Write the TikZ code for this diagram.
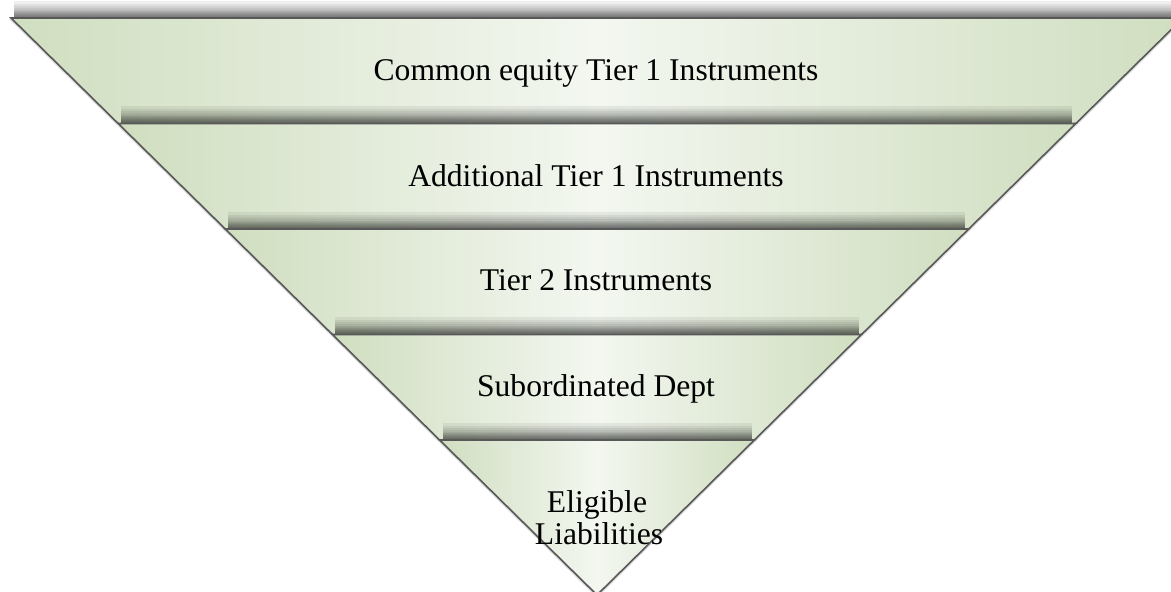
\documentclass[tikz,border=0pt]{standalone}
\usepackage{fontspec}
\setmainfont{Liberation Serif}
\usetikzlibrary{calc,fadings}
\definecolor{bandedge}{RGB}{208,222,192}
\definecolor{bandmid}{RGB}{243,247,240}
\definecolor{bandrule}{RGB}{88,88,88}

% horizontal fading (100bp square, as fit fading expects) that softens
% the two ends of a shadow strip
\begin{tikzfadingfrompicture}[name=endsoft]
  \shade[left color=transparent!100,right color=transparent!0] (-50bp,-50bp) rectangle (-45.9bp,50bp);
  \fill[transparent!0] (-46bp,-50bp) rectangle (46bp,50bp);
  \shade[left color=transparent!0,right color=transparent!100] (45.9bp,-50bp) rectangle (50bp,50bp);
\end{tikzfadingfrompicture}

\begin{document}
\begin{tikzpicture}[x=0.5pt,y=-0.5pt,
  bandfill/.style={left color=bandedge,right color=bandedge,middle color=bandmid},
  bandrim/.style={draw=bandrule,line width=0.8pt,line join=miter},
  shadowlayer/.style={fill=black,opacity=0.062,path fading=endsoft},
  sidehalo/.style={draw=black,opacity=0.14,line width=2pt},
  label/.style={font=\fontsize{15.8}{16}\selectfont,align=center,inner sep=0pt,anchor=base}]
\useasboundingbox (0,0) rectangle (1171,592);
\clip (0,0) rectangle (1171,592);

% outer corners of the inverted pyramid
\coordinate (TL) at (11,18);
\coordinate (TR) at (1183,18);
\coordinate (A) at (597,595);

% band boundaries along the two slanted sides
\foreach \i/\t in {0/0,1/0.18284,2/0.36568,3/0.54853,4/0.73137} {
  \coordinate (L\i) at ($(TL)!\t!(A)$);
  \coordinate (R\i) at ($(TR)!\t!(A)$);
}

% soft halo along the slanted outer sides
\draw[sidehalo] (TL) -- (A) -- (TR);

% four trapezoid bands, each casting a soft shadow above its top rule
\foreach \i/\j in {0/1,1/2,2/3,3/4} {
  \foreach \h in {2,3,4,5,6,7,8,10,12,14,17}
    \fill[shadowlayer] ($(L\i)+(3,-\h)$) rectangle ($(R\i)+(-3,0)$);
  \shade[bandfill] (L\i) -- (R\i) -- (R\j) -- (L\j) -- cycle;
  \draw[bandrim] (L\j) -- (L\i) -- (R\i) -- (R\j);
}

% bottom tip
\foreach \h in {2,3,4,5,6,7,8,10,12,14,17}
  \fill[shadowlayer] ($(L4)+(3,-\h)$) rectangle ($(R4)+(-3,0)$);
\shade[bandfill] (L4) -- (R4) -- (A) -- cycle;
\draw[bandrim] (A) -- (L4) -- (R4) -- cycle;

% labels
\node[label] (t1) at (596,81) {Common equity Tier 1 Instruments};
\node[label] (t2) at (596,187) {Additional Tier 1 Instruments};
\node[label] (t3) at (596,291) {Tier 2 Instruments};
\node[label] (t4) at (596,397) {Subordinated Dept};
\node[label] (t5a) at (597,512) {Eligible};
\node[label] (t5b) at (599,544) {Liabilities};
\end{tikzpicture}
\end{document}
